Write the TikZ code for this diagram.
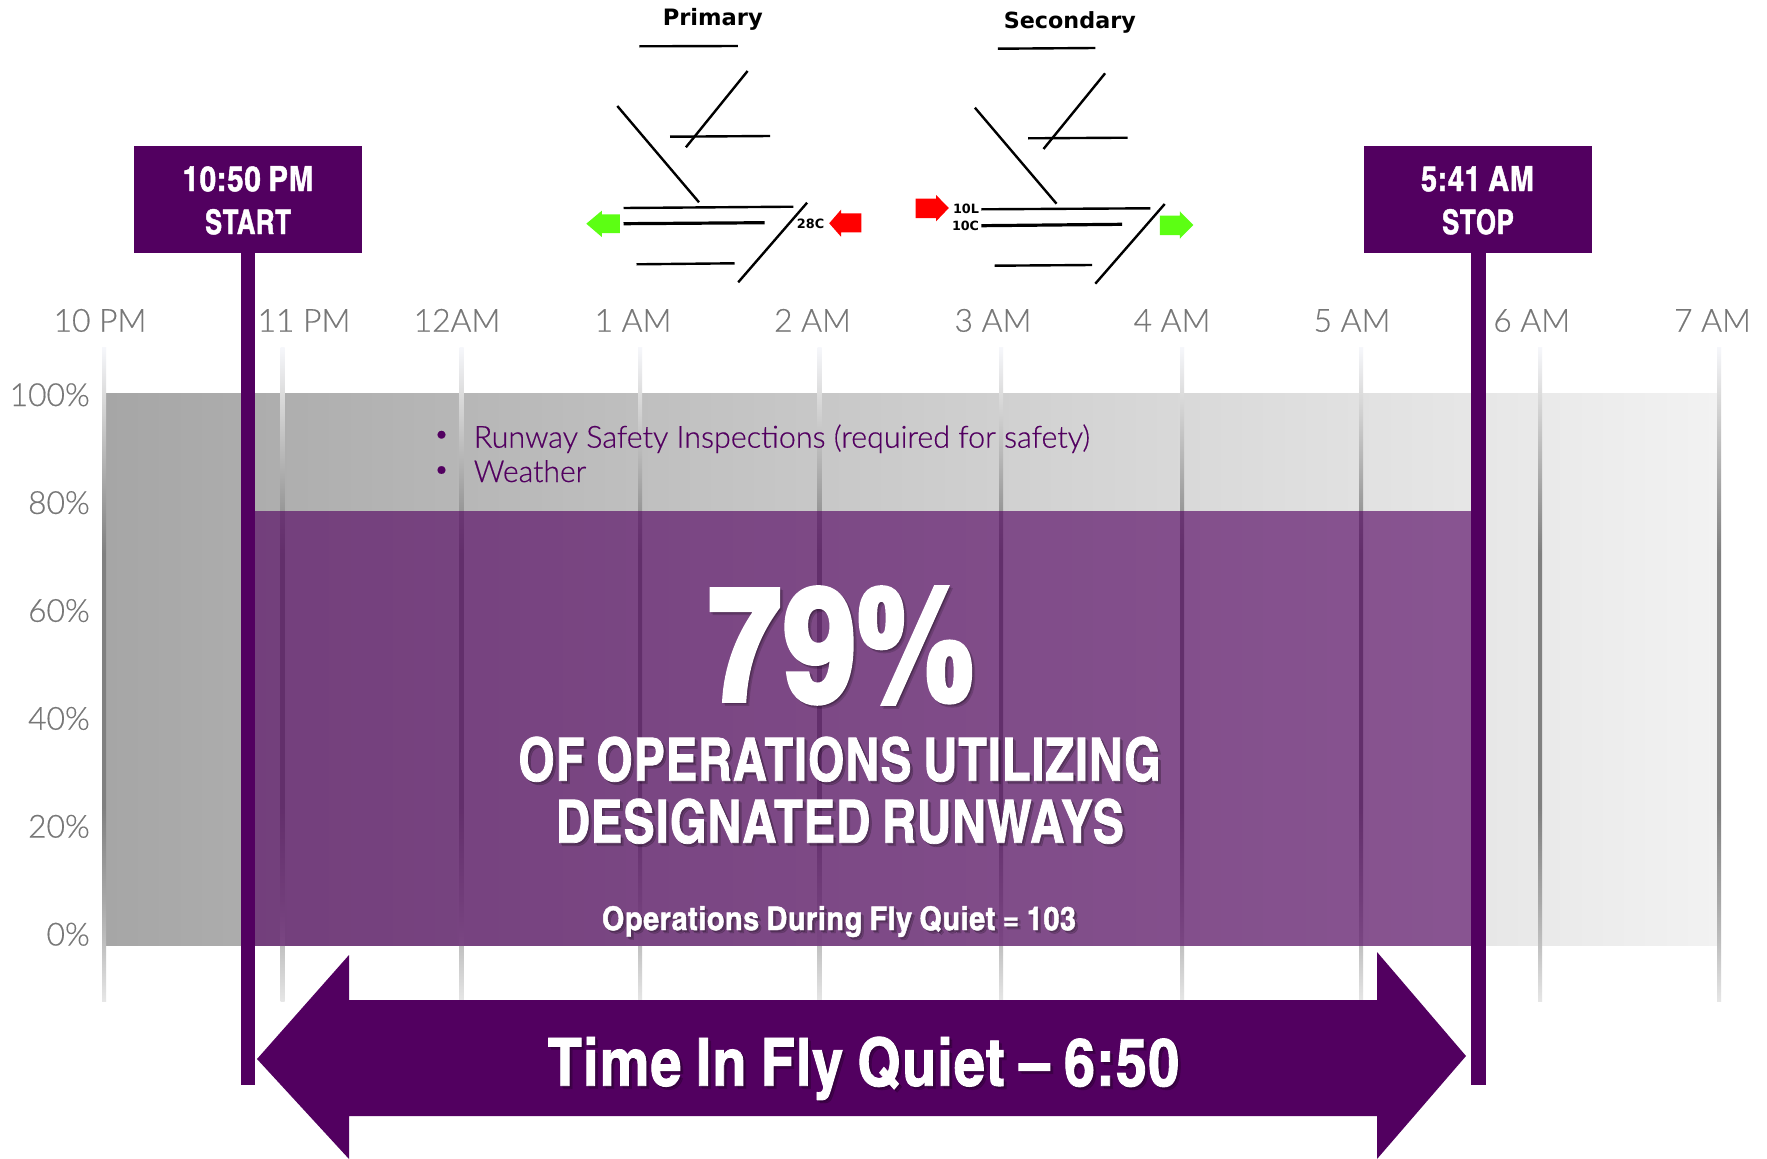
\documentclass[tikz,border=0pt]{standalone}
\usepackage{fontspec}
\usepackage{graphicx}
\setmainfont{Liberation Sans}
\newfontfamily\hdfont{TeX Gyre Heros Cn}[WordSpace=0.85,LetterSpace=1.6,BoldFeatures={FakeBold=1.3}]
\newfontfamily\hugefont{TeX Gyre Heros Cn}[LetterSpace=1.5,BoldFeatures={FakeBold=3.5}]
\newfontfamily\lightfont{Lato Light}[FakeBold=0.5]
\newfontfamily\vfont{DejaVu Sans}
\definecolor{qpurple}{HTML}{520060}
\definecolor{gA}{HTML}{E6E6E6}
\definecolor{gB}{HTML}{C0C0C0}
\definecolor{gC}{HTML}{A8A8A8}
\definecolor{gD}{HTML}{808080}
\definecolor{gE}{HTML}{A0A0A0}
\definecolor{gF}{HTML}{DCDCDC}
\definecolor{gG}{HTML}{F6F7FB}
\definecolor{axisgray}{HTML}{777777}
\definecolor{grn}{HTML}{5CFF13}
\pgfdeclareverticalshading{gridfade}{100bp}{color(0bp)=(gA);color(25bp)=(gA);color(29.3bp)=(gB);color(32.7bp)=(gC);color(39.8bp)=(gD);color(59.25bp)=(gD);color(63.7bp)=(gE);color(71.4bp)=(gF);color(75bp)=(gG);color(100bp)=(gG)}
\tikzset{
  lab/.style={inner sep=0pt,outer sep=0pt,anchor=base},
  rw/.style={line width=2.4pt,black},
  rwthick/.style={line width=3.2pt,black},
  hour/.style={inner sep=0pt,anchor=base,text=axisgray,font=\lightfont\fontsize{31.8}{36}\selectfont},
  pct/.style={inner sep=0pt,anchor=base east,text=axisgray,font=\lightfont\fontsize{31.8}{36}\selectfont},
  note/.style={inner sep=0pt,anchor=base west,text=qpurple},
  flagbox/.style={fill=qpurple,draw=none,inner sep=0pt,minimum width=228pt,minimum height=107pt},
  pole/.style={draw=qpurple,line width=14.7pt},
}
\newcommand{\fitlabel}[6]{%
  \node[lab,text=black,text opacity=.16] (#1sa) at ({#2+1.6},{#3+1.6}) {\resizebox{#4pt}{#5pt}{\hdfont\bfseries #6}};
  \node[lab,text=black,text opacity=.16] (#1sb) at ({#2+3},{#3+3}) {\resizebox{#4pt}{#5pt}{\hdfont\bfseries #6}};
  \node[lab,text=white] (#1) at (#2,#3) {\resizebox{#4pt}{#5pt}{\hdfont\bfseries #6}};
}
\newcommand{\plainfit}[6]{%
  \node[lab,text=white] (#1) at (#2,#3) {\resizebox{#4pt}{#5pt}{\hdfont\bfseries #6}};
}
\newcommand{\vlabel}[5]{%
  \node[lab,text=black] (#1) at (#2,#3) {\resizebox{#4pt}{!}{\vfont\bfseries\fontsize{#5}{#5}\selectfont #1}};
}
\begin{document}
\begin{tikzpicture}[x=1pt,y=-1pt]
\useasboundingbox (0,0) rectangle (1767,1159);
\fill[white] (0,0) rectangle (1767,1159);

% band
\shade[left color={rgb,255:red,166;green,166;blue,166},right color={rgb,255:red,242;green,242;blue,242}] (106,393) rectangle (1719,945.7);

% grid lines
\foreach \x in {104,282.5,461.5,640,819.5,1001,1182,1361,1540,1719}
  \shade[shading=gridfade] ({\x-2},347) rectangle ({\x+2},1001);

% purple overlay
\fill[qpurple,fill opacity=.63] (255,511) rectangle (1472,945.7);

% axis labels
\foreach \n/\x/\t in {a/100/10 PM,b/304/11 PM,c/457/12AM,d/633/1 AM,e/812.5/2 AM,f/993/3 AM,g/1172/4 AM,h/1352/5 AM,i/1531.7/6 AM,j/1712.5/7 AM}
  \node[hour] (hr\n) at (\x,331.7) {\t};
\foreach \n/\y/\t in {a/406/100\%,b/513.9/80\%,c/621.8/60\%,d/729.7/40\%,e/837.6/20\%,f/945.5/0\%}
  \node[pct] (pc\n) at (90,\y) {\t};

% notes
\node[inner sep=0pt,anchor=center,text=qpurple,font=\lightfont\fontsize{26}{30}\selectfont] (ba) at (441.5,436.7) {•};
\node[inner sep=0pt,anchor=center,text=qpurple,font=\lightfont\fontsize{26}{30}\selectfont] (bb) at (441.5,472) {•};
\node[note] (na) at (473.6,447.7) {\resizebox{616pt}{!}{\lightfont\fontsize{29}{34}\selectfont Runway Safety Inspections (required for safety)}};
\node[note] (nb) at (473.6,482) {\resizebox{112.5pt}{!}{\lightfont\fontsize{29}{34}\selectfont Weather}};

% big texts
\node[lab,text=black,text opacity=.16] (bigsa) at (842.6,701.6) {\resizebox{264pt}{112pt}{\hugefont\bfseries 79\%}};
\node[lab,text=black,text opacity=.16] (bigsb) at (844,703) {\resizebox{264pt}{112pt}{\hugefont\bfseries 79\%}};
\node[lab,text=white] (big) at (841,700) {\resizebox{264pt}{112pt}{\hugefont\bfseries 79\%}};
\fitlabel{ofop}{839.5}{780.7}{642}{44}{OF OPERATIONS UTILIZING}
\fitlabel{desig}{840}{842.7}{568}{44}{DESIGNATED RUNWAYS}
\fitlabel{opsdur}{839}{930}{474}{24}{Operations During Fly Quiet = 103}

% start / stop
\node[flagbox] (startbox) at (248,199.5) {};
\node[flagbox] (stopbox) at (1478,199.5) {};
\coordinate (startend) at (248,1085);
\coordinate (stopend) at (1478.7,1085);
\draw[pole] (startbox.south) -- (startend);
\draw[pole] (stopbox.south -| stopend) -- (stopend);
\plainfit{startA}{248}{191}{131}{25}{10:50 PM}
\plainfit{startB}{248}{234}{86}{25}{START}
\plainfit{stopA}{1477.5}{191}{113}{25}{5:41 AM}
\plainfit{stopB}{1478}{234}{72}{25}{STOP}

% double arrow
\fill[qpurple] (257,1059) -- (349,955) -- (349,1000) -- (1377,1000) -- (1377,952) -- (1466,1056) -- (1377,1159) -- (1377,1116) -- (349,1116) -- (349,1159) -- cycle;
\fitlabel{timefq}{863.5}{1085.7}{631}{49}{Time In Fly Quiet – 6:50}

% Primary runway diagram
\draw[rw] (639.4,46.3) -- (737.8,46);
\draw[rw] (747.6,71) -- (685.9,147.3);
\draw[rw] (670,136.7) -- (770,136);
\draw[rw] (617.3,106) -- (699,202.3);
\draw[rw] (623.5,208) -- (793.3,206.7);
\draw[rwthick] (623.5,223.7) -- (764.7,222.7);
\draw[rw] (636.5,264.3) -- (734.5,263.3);
\draw[rw] (807.1,202.7) -- (738.2,282.3);
\fill[grn] (586.3,223.7) -- (601.8,210.7) -- (601.8,214.3) -- (619.8,214.3) -- (619.8,233) -- (601.8,233) -- (601.8,237) -- cycle;
\fill[red] (829.2,223.3) -- (841,209.7) -- (841,213.3) -- (861.4,213.3) -- (861.4,232.3) -- (841,232.3) -- (841,236.7) -- cycle;
\vlabel{Primary}{712.8}{25}{100}{20}
\vlabel{28C}{810.6}{228.3}{27.3}{12}

% Secondary runway diagram
\draw[rw] (997.8,48.7) -- (1095.3,48);
\draw[rw] (1105.1,73.3) -- (1043.5,149);
\draw[rw] (1028,138.3) -- (1127.6,137.7);
\draw[rw] (974.9,107.7) -- (1056.5,203.7);
\draw[rw] (981.4,209.3) -- (1150.4,208.3);
\draw[rwthick] (981.4,225.7) -- (1122.2,224.3);
\draw[rw] (994.5,265.7) -- (1092,265);
\draw[rw] (1164.7,204) -- (1095.3,283.7);
\fill[red] (948.8,208) -- (936.1,195) -- (936.1,198.7) -- (915.7,198.7) -- (915.7,218) -- (936.1,218) -- (936.1,221.3) -- cycle;
\fill[grn] (1193.3,225) -- (1179.8,211.3) -- (1179.8,215.7) -- (1159.8,215.7) -- (1159.8,235) -- (1179.8,235) -- (1179.8,238.7) -- cycle;
\vlabel{Secondary}{1069.8}{29}{132}{20}
\vlabel{10L}{966}{213.7}{26}{12}
\vlabel{10C}{965.5}{230}{27}{12}
\end{tikzpicture}
\end{document}
